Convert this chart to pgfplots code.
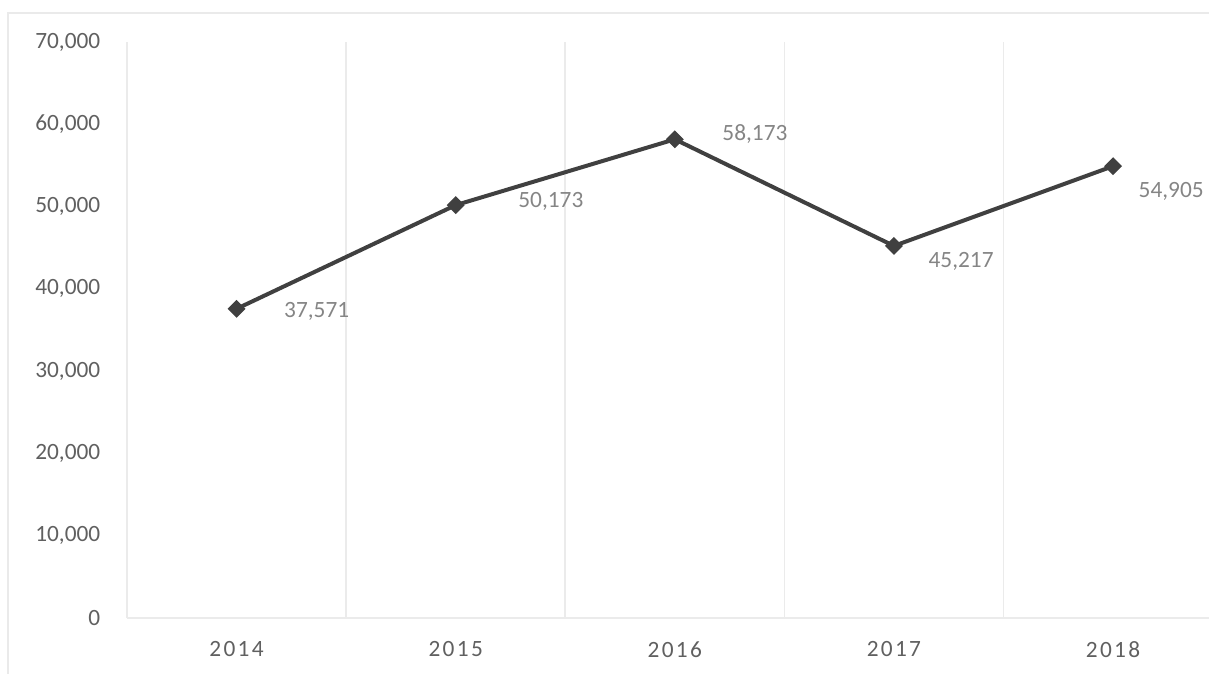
\documentclass[border=0pt]{standalone}
\usepackage{fontspec}
\setmainfont{Carlito}
\newfontfamily\spaced[LetterSpace=10]{Carlito}
\usepackage{pgfplots}
\pgfplotsset{compat=1.18}
\definecolor{tickgray}{HTML}{606060}
\definecolor{labgray}{HTML}{858585}
\definecolor{linegray}{HTML}{404040}
\definecolor{gridgray}{HTML}{EBEBEB}
\definecolor{framegray}{HTML}{EAEAEA}
\begin{document}
\begin{tikzpicture}
\path[use as bounding box] (0,0) rectangle (362.7pt,202.2pt);
\draw[framegray, line width=0.4pt] (2.4pt,0pt) -- (2.4pt,198.3pt) -- (362.7pt,198.3pt);
\begin{axis}[
  at={(38.1pt,16.8pt)}, anchor=south west,
  scale only axis, width=324.6pt, height=172.8pt,
  xmin=-0.5, xmax=4.438, ymin=0, ymax=70000,
  axis x line*=bottom, axis y line*=left,
  x axis line style={draw=gridgray, line width=0.5pt, -},
  y axis line style={draw=none},
  tick style={draw=none},
  xtick={0,1,2,3,4},
  xticklabels={2014,2015,2016,2017,2018},
  minor xtick={-0.5,0.5,1.5,2.5,3.5},
  xminorgrids, minor grid style={draw=gridgray, line width=0.5pt},
  ytick={0,10000,20000,30000,40000,50000,60000,70000},
  scaled y ticks=false,
  /pgf/number format/.cd, 1000 sep={,}, assume math mode=true, /pgfplots/.cd,
  yticklabel style={font=\fontsize{7}{8}\selectfont, text=tickgray, xshift=-4.5pt},
  xticklabel style={font=\spaced\fontsize{7}{8}\selectfont, text=tickgray, yshift=-3.5pt},
  clip=false,
]
\addplot[linegray, line width=1.2pt, mark=square*, mark size=1.7pt,
  mark options={rotate=45, fill=linegray, draw=linegray, line width=0.4pt}]
  coordinates {(0,37571) (1,50173) (2,58173) (3,45217) (4,54905)};
\begin{scope}[every node/.style={anchor=west, inner sep=0pt, text=labgray, font=\fontsize{7}{8}\selectfont}]
\node[xshift=14.1pt, yshift=-0.9pt] at (axis cs:0,37571) {37,571};
\node[xshift=18.6pt, yshift=1.2pt] at (axis cs:1,50173) {50,173};
\node[xshift=14.1pt, yshift=1.5pt] at (axis cs:2,58173) {58,173};
\node[xshift=10.2pt, yshift=-4.8pt] at (axis cs:3,45217) {45,217};
\node[xshift=7.5pt, yshift=-7.5pt] at (axis cs:4,54905) {54,905};
\end{scope}
\end{axis}
\end{tikzpicture}
\end{document}
